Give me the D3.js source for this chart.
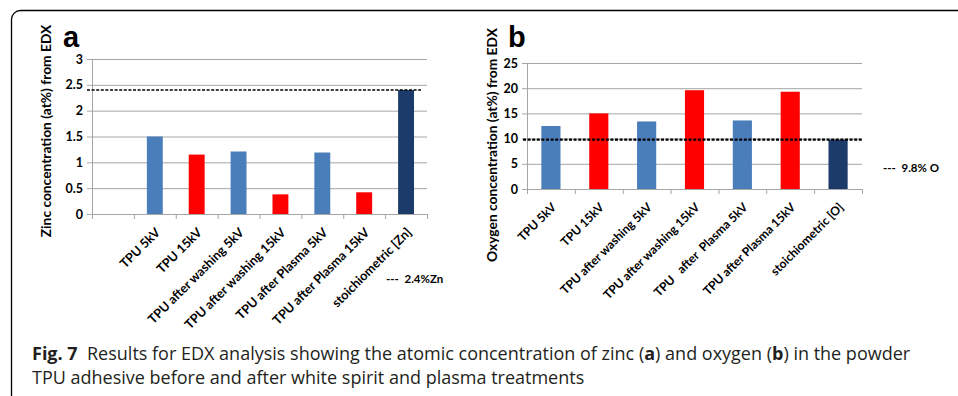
<!DOCTYPE html>
<html>
<head>
<meta charset="utf-8">
<script src="https://cdn.jsdelivr.net/npm/d3@7"></script>
<style>
  body { margin: 0; background: #fff; }
  svg text { font-family: Lato, "Open Sans", sans-serif; }
  .caption { font-family: "Open Sans", sans-serif; fill: #231f20; }
</style>
</head>
<body>
<div id="chart"></div>
<script>
// panel a: zinc
const zincCategories = ['', 'TPU 5kV', 'TPU 15kV', 'TPU after washing 5kV', 'TPU after washing 15kV',
  'TPU after Plasma 5kV', 'TPU after Plasma 15kV', 'stoichiometric [Zn]'];
const zincValues = [null, 1.5, 1.15, 1.21, 0.38, 1.19, 0.42, 2.4];
const zincTicks = [0, 0.5, 1, 1.5, 2, 2.5, 3];
const zincRef = 2.4;

// panel b: oxygen
const oxygenCategories = ['TPU 5kV', 'TPU 15kV', 'TPU after washing 5kV', 'TPU after washing 15kV',
  'TPU   after  Plasma 5kV', 'TPU after Plasma 15kV', 'stoichiometric [O]'];
const oxygenValues = [12.5, 15.0, 13.4, 19.6, 13.6, 19.3, 9.8];
const oxygenTicks = [0, 5, 10, 15, 20, 25];
const oxygenRef = 9.8;

const W = 958, H = 396;
const blue = '#4a7ebb', red = '#ff0000', navy = '#1c3a6a', grid = '#a6a6a6';

const svg = d3.select('#chart').append('svg')
  .attr('width', W)
  .attr('height', H);

// outer frame, runs off the right and bottom edges
svg.append('rect')
  .attr('x', 11.5).attr('y', 10.5)
  .attr('width', 1000).attr('height', 500)
  .attr('rx', 9)
  .attr('fill', 'none')
  .attr('stroke', '#000')
  .attr('stroke-width', 1.3);

function barColor(name) {
  if (name.startsWith('stoich')) return navy;
  return name.includes('15kV') ? red : blue;
}

function panel(opt) {
  const x = d3.scaleBand().domain(opt.categories).range([opt.left, opt.right]);
  const y = d3.scaleLinear().domain(opt.domain).range([opt.bottom, opt.top]);
  const g = svg.append('g');

  // gridlines + y labels
  const yAxis = d3.axisLeft(y).tickValues(opt.ticks).tickSize(-(opt.right - opt.left)).tickPadding(9)
    .tickFormat(d3.format('~g'));
  const ya = g.append('g')
    .attr('transform', 'translate(' + opt.left + ',0)')
    .call(yAxis);
  ya.select('.domain').remove();
  ya.selectAll('line').attr('x1', -5).attr('stroke', grid);
  ya.selectAll('text')
    .style('font-size', '12.5px').style('font-weight', 'bold').attr('fill', '#000');

  // left axis line
  g.append('line')
    .attr('x1', opt.left + 0.5).attr('x2', opt.left + 0.5)
    .attr('y1', opt.top).attr('y2', opt.bottom)
    .attr('stroke', grid);

  // bars
  const bw = x.bandwidth() * opt.barRatio;
  g.selectAll('rect.bar')
    .data(opt.categories.map((c, i) => ({c: c, v: opt.values[i]})).filter(d => d.v != null))
  .enter().append('rect')
    .attr('class', 'bar')
    .attr('x', d => x(d.c) + (x.bandwidth() - bw) / 2)
    .attr('width', bw)
    .attr('y', d => y(d.v))
    .attr('height', d => y(0) - y(d.v))
    .attr('fill', d => barColor(d.c));

  // bottom axis: labels at band centres
  const xa = g.append('g')
    .attr('transform', 'translate(0,' + opt.bottom + ')')
    .call(d3.axisBottom(x).tickSize(0));
  xa.select('.domain').attr('stroke', grid);
  xa.selectAll('text')
    .style('font-size', opt.labelSize).style('font-weight', 'bold').attr('fill', '#000')
    .style('white-space', 'pre')
    .style('text-anchor', 'end')
    .attr('y', 0).attr('dy', '0.35em')
    .attr('transform', 'translate(3,16) rotate(-45)');

  // tick marks between bands
  g.selectAll('line.xtick')
    .data(opt.categories.map(c => x(c)).concat([opt.right]))
  .enter().append('line')
    .attr('class', 'xtick')
    .attr('x1', d => d + 0.5).attr('x2', d => d + 0.5)
    .attr('y1', opt.bottom).attr('y2', opt.bottom + 5)
    .attr('stroke', grid);

  // reference dashed line
  g.append('line')
    .attr('x1', opt.left - opt.refPad).attr('x2', opt.right - opt.refCut)
    .attr('y1', y(opt.ref)).attr('y2', y(opt.ref))
    .attr('stroke', '#000')
    .attr('stroke-width', opt.refWidth)
    .attr('stroke-dasharray', '3,1.6');

  // y title
  g.append('text')
    .attr('transform', 'translate(' + opt.titleX + ',' + opt.titleY + ') rotate(-90)')
    .attr('text-anchor', 'middle')
    .attr('dy', '0.35em')
    .style('font-size', '13.8px').style('font-weight', 'bold')
    .text(opt.title);

  // panel letter
  g.append('text')
    .attr('x', opt.letterX).attr('y', opt.letterY)
    .style('font-family', 'Liberation Sans, Arial, sans-serif')
    .style('font-size', '29px').style('font-weight', 'bold')
    .text(opt.letter);

  // reference note
  g.append('text')
    .attr('x', opt.noteX).attr('y', opt.noteY)
    .attr('dy', '0.35em')
    .style('font-size', '11.5px').style('font-weight', 'bold')
    .style('white-space', 'pre')
    .text(opt.note);
}

panel({
  categories: zincCategories, values: zincValues, ticks: zincTicks, domain: [0, 3], ref: zincRef,
  left: 92, right: 427, top: 59, bottom: 214, barRatio: 0.38, labelSize: '12.7px',
  refPad: 5, refCut: 6, refWidth: 1.5,
  title: 'Zinc concentration (at%) from EDX', titleX: 46, titleY: 131,
  letter: 'a', letterX: 63, letterY: 47,
  note: '---  2.4%Zn', noteX: 386, noteY: 279
});

panel({
  categories: oxygenCategories, values: oxygenValues, ticks: oxygenTicks, domain: [0, 25], ref: oxygenRef,
  left: 527, right: 862, top: 63, bottom: 189, barRatio: 0.4, labelSize: '12.1px',
  refPad: 4, refCut: -1, refWidth: 2.4,
  title: 'Oxygen concentration (at%) from EDX', titleX: 492, titleY: 145,
  letter: 'b', letterX: 508, letterY: 47,
  note: '---  9.8% O', noteX: 883, noteY: 168
});

// caption
const cap = svg.append('text').attr('class', 'caption')
  .attr('x', 32).attr('y', 360)
  .style('font-size', '18px');
cap.append('tspan').style('font-weight', 'bold').text('Fig. 7');
cap.append('tspan').text('\u00a0 Results for EDX analysis showing the atomic concentration of zinc (');
cap.append('tspan').style('font-weight', 'bold').text('a');
cap.append('tspan').text(') and oxygen (');
cap.append('tspan').style('font-weight', 'bold').text('b');
cap.append('tspan').text(') in the powder');

svg.append('text').attr('class', 'caption')
  .attr('x', 32).attr('y', 384)
  .style('font-size', '18px')
  .text('TPU adhesive before and after white spirit and plasma treatments');
</script>
</body>
</html>
